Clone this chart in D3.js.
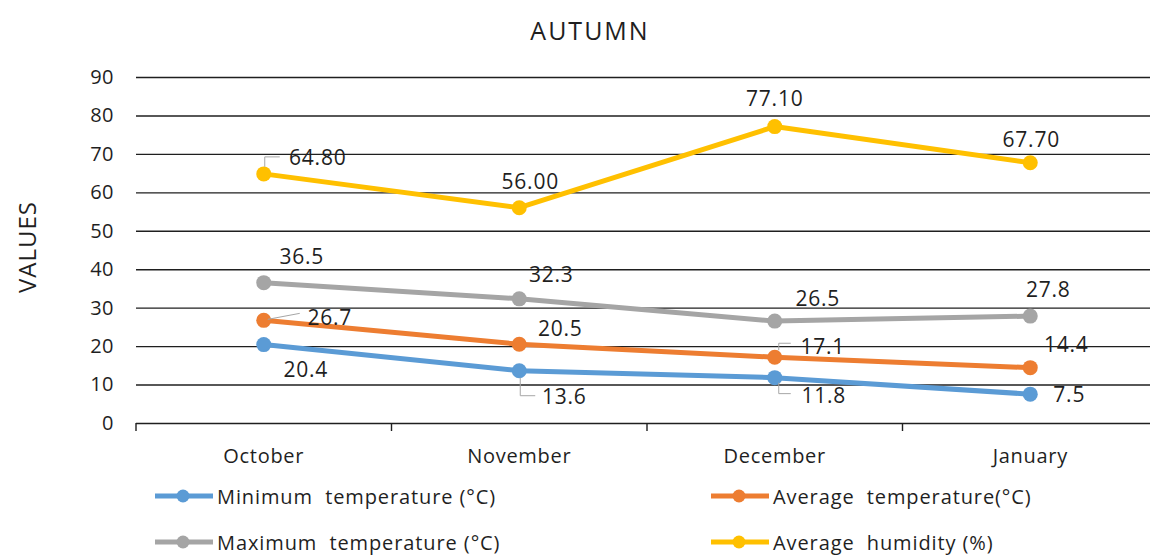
<!DOCTYPE html>
<html lang="en">
<head>
    <meta charset="UTF-8">
    <title>Autumn</title>
    <script src="https://cdn.jsdelivr.net/npm/d3@7/dist/d3.min.js"></script>
    <style>
        body { margin: 0; background: #fff; }
        text { font-family: "Open Sans", sans-serif; fill: #1f1f1f; }
    </style>
</head>
<body>
<div id="chart"></div>
<script>

    // Data
    const months = ["October", "November", "December", "January"];
    const minTemp = [20.4, 13.6, 11.8, 7.5];
    const avgTemp = [26.7, 20.5, 17.1, 14.4];
    const maxTemp = [36.5, 32.3, 26.5, 27.8];
    const avgHumidity = [64.80, 56.00, 77.10, 67.70];
    const yTicks = [0, 10, 20, 30, 40, 50, 60, 70, 80, 90];

    const series = [
        {name: "Minimum  temperature (°C)", values: minTemp, color: "#5B9BD5", digits: 1},
        {name: "Average  temperature(°C)", values: avgTemp, color: "#ED7D31", digits: 1},
        {name: "Maximum  temperature (°C)", values: maxTemp, color: "#A5A5A5", digits: 1},
        {name: "Average  humidity (%)", values: avgHumidity, color: "#FFC000", digits: 2}
    ];

    // where each data label sits, relative to its marker (label centre)
    const labelNudge = [
        [[42, 24], [45, 25], [49, 17], [39, 0]],
        [[66, -3], [41, -16], [48, -11], [36, -24]],
        [[38, -27], [32, -25], [43, -23], [18, -27]],
        [[54, -17], [11, -27], [0, -29], [1, -24]]
    ];
    // little leader lines, relative to the marker
    const leaderMap = {
        "0-1": [[1, 7], [1, 25], [16, 25]],
        "0-2": [[4, 5], [4, 16], [16, 16]],
        "1-0": [[4, -1], [36, -7]],
        "1-2": [[4, -7], [4, -14], [16, -14]],
        "3-0": [[1, -7], [1, -17], [16, -17]]
    };

    const width = 1150, height = 556;
    const plotLeft = 136, plotRight = 1158, plotTop = 77, plotBottom = 423;

    const svg = d3.select("#chart").append("svg")
        .attr("width", width)
        .attr("height", height);

    const x = d3.scaleBand().domain(months).range([plotLeft, plotRight]);
    const cx = m => x(m) + x.bandwidth() / 2;
    const y = d3.scaleLinear().domain([0, 90]).range([plotBottom, plotTop]);

    // title
    svg.append("text")
        .attr("x", 590).attr("y", 40)
        .attr("text-anchor", "middle")
        .style("font-size", "25px")
        .style("letter-spacing", "2px")
        .text("AUTUMN");

    // y axis title
    svg.append("text")
        .attr("transform", "translate(36,247) rotate(-90)")
        .attr("text-anchor", "middle")
        .style("font-size", "24px")
        .style("letter-spacing", "1px")
        .text("VALUES");

    // gridlines + y labels
    const yAxis = svg.append("g")
        .attr("transform", `translate(${plotLeft},0)`)
        .call(d3.axisLeft(y).tickValues(yTicks).tickSize(-(width - plotLeft)).tickPadding(22));
    yAxis.select(".domain").remove();
    yAxis.selectAll("line").attr("stroke", "#1f1f1f").attr("stroke-width", 1.4);
    yAxis.selectAll("text")
        .style("font-size", "20px")
        .style("letter-spacing", "0.5px")
        .style("font-family", "'Open Sans', sans-serif")
        .attr("fill", "#1f1f1f");

    // x axis: ticks at band edges, labels at band centres
    const xAxis = svg.append("g").attr("transform", `translate(0,${plotBottom})`);
    xAxis.selectAll("line.tick")
        .data(months.map(m => x(m)).concat([plotRight]))
        .join("line")
        .attr("x1", d => d).attr("x2", d => d)
        .attr("y1", 0).attr("y2", 8)
        .attr("stroke", "#1f1f1f").attr("stroke-width", 1.4);
    xAxis.selectAll("text")
        .data(months)
        .join("text")
        .attr("x", d => cx(d))
        .attr("y", 40)
        .attr("text-anchor", "middle")
        .style("font-size", "20px")
        .style("letter-spacing", "0.7px")
        .text(d => d);

    // lines and markers
    const line = d3.line()
        .x((d, i) => cx(months[i]))
        .y(d => y(d));

    series.forEach((s, si) => {
        const g = svg.append("g");
        g.append("path")
            .attr("d", line(s.values))
            .attr("fill", "none")
            .attr("stroke", s.color)
            .attr("stroke-width", 5)
            .attr("stroke-linejoin", "round");
        g.selectAll("circle")
            .data(s.values)
            .join("circle")
            .attr("cx", (d, i) => cx(months[i]))
            .attr("cy", d => y(d))
            .attr("r", 7.5)
            .attr("fill", s.color);
    });

    // data labels drawn on top
    series.forEach((s, si) => {
        s.values.forEach((v, i) => {
            const px = cx(months[i]), py = y(v);
            const key = si + "-" + i;
            if (leaderMap[key]) {
                svg.append("path")
                    .attr("d", d3.line()(leaderMap[key].map(p => [px + p[0], py + p[1]])))
                    .attr("fill", "none")
                    .attr("stroke", "#a6a6a6")
                    .attr("stroke-width", 1);
            }
            const [dx, dy] = labelNudge[si][i];
            svg.append("text")
                .attr("x", px + dx)
                .attr("y", py + dy)
                .attr("text-anchor", "middle")
                .attr("dominant-baseline", "central")
                .style("font-size", "21px")
                .style("letter-spacing", "0.8px")
                .text(v.toFixed(s.digits));
        });
    });

    // legend
    const legendPos = [[155, 496], [711, 496], [155, 542], [711, 542]];
    series.forEach((s, si) => {
        const [lx, ly] = legendPos[si];
        const g = svg.append("g").attr("transform", `translate(${lx},${ly})`);
        g.append("line")
            .attr("x1", 0).attr("x2", 58)
            .attr("y1", 0).attr("y2", 0)
            .attr("stroke", s.color).attr("stroke-width", 5);
        g.append("circle")
            .attr("cx", 28).attr("cy", 0).attr("r", 6.5)
            .attr("fill", s.color);
        g.append("text")
            .attr("x", 62).attr("y", 0)
            .attr("dominant-baseline", "central")
            .style("white-space", "pre")
            .style("font-size", "20px")
            .style("letter-spacing", "0.9px")
            .text(s.name);
    });

</script>
</body>
</html>
